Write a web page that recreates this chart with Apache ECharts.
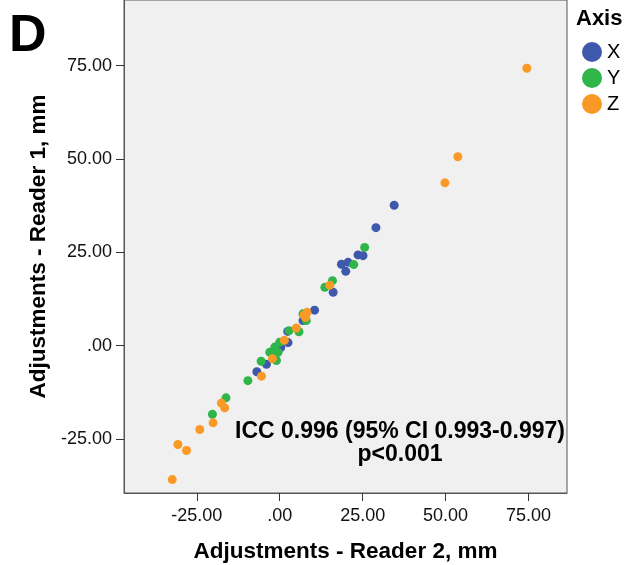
<!DOCTYPE html>
<html>
<head>
<meta charset="utf-8">
<script src="https://cdn.jsdelivr.net/npm/echarts@6/dist/echarts.min.js"></script>
<style>
  html, body { margin: 0; padding: 0; background: #fff; }
  #chart { width: 626px; height: 565px; }
</style>
</head>
<body>
<div id="chart"></div>
<script>
// 读数：Reader 2 (x) / Reader 1 (y)
var axisNames = ['X', 'Y', 'Z'];
var axisColors = ['#3e58ac', '#2fb54a', '#fa9a26'];
var tickValues = [-25, 0, 25, 50, 75];

var pointsX = [
  [34.5, 37.6], [29.0, 31.6], [23.6, 24.3], [25.1, 24.1], [18.6, 21.8],
  [20.6, 22.3], [19.9, 19.9], [16.1, 14.3], [10.5, 9.5], [7.0, 6.7],
  [2.4, 3.8], [2.5, 0.8], [0.3, -0.5], [-4.0, -5.0], [-6.9, -7.0]
];
var pointsY = [
  [25.6, 26.3], [22.3, 21.7], [15.9, 17.4], [13.6, 15.6], [7.0, 8.5],
  [8.0, 6.7], [5.8, 3.7], [2.8, 4.0], [0.0, 0.9], [-1.5, -0.4],
  [-0.5, -1.8], [-3.0, -1.8], [-1.5, -3.1], [-1.0, -4.0], [-5.6, -4.2],
  [-9.6, -9.4], [-16.2, -14.0], [-20.3, -18.4]
];
var pointsZ = [
  [74.5, 74.3], [53.7, 50.6], [49.8, 43.6], [15.1, 16.2], [7.3, 8.2],
  [8.2, 8.9], [7.8, 7.5], [5.0, 4.7], [1.4, 1.4], [-2.2, -3.5],
  [-5.5, -8.2], [-17.6, -15.4], [-16.6, -16.7], [-20.1, -20.7],
  [-24.1, -22.5], [-30.7, -26.5], [-28.1, -28.1], [-32.4, -35.9]
];
var allPoints = [pointsX, pointsY, pointsZ];

var fontName = '"Liberation Sans", Arial, sans-serif';

function fmt(v) {
  if (tickValues.indexOf(v) < 0) return '';
  return v === 0 ? '.00' : v.toFixed(2);
}

var myChart = echarts.init(document.getElementById('chart'));

var option = {
  animation: false,
  textStyle: { fontFamily: fontName, color: '#000' },
  grid: {
    left: 124, right: 59, top: 0, bottom: 72,
    outerBoundsMode: 'none',
    containLabel: false,
    show: true,
    backgroundColor: '#f0f0f0',
    borderColor: '#555',
    borderWidth: 1
  },
  legend: {
    data: axisNames,
    orient: 'vertical',
    left: 577, top: 37,
    icon: 'circle',
    itemWidth: 20, itemHeight: 20,
    itemGap: 6,
    textStyle: { fontSize: 20, color: '#000', fontFamily: fontName }
  },
  xAxis: {
    type: 'value',
    min: -46.95, max: 86.6,
    name: 'Adjustments - Reader 2, mm',
    nameLocation: 'middle',
    nameGap: 47,
    nameTextStyle: { fontSize: 22.5, fontWeight: 'bold', color: '#000' },
    splitLine: { show: false },
    axisLine: { show: true, onZero: false, lineStyle: { color: '#555' } },
    axisTick: { show: true, length: 8, customValues: tickValues, lineStyle: { color: '#333' } },
    axisLabel: { customValues: tickValues, formatter: fmt, fontSize: 18, color: '#111', margin: 14 }
  },
  yAxis: {
    type: 'value',
    min: -39.5, max: 92.6,
    name: 'Adjustments - Reader 1, mm',
    nameLocation: 'middle',
    nameGap: 73,
    nameRotate: 90,
    nameTextStyle: { fontSize: 22.5, fontWeight: 'bold', color: '#000' },
    splitLine: { show: false },
    axisLine: { show: true, onZero: false, lineStyle: { color: '#555' } },
    axisTick: { show: true, length: 8, customValues: tickValues, lineStyle: { color: '#333' } },
    axisLabel: { customValues: tickValues, formatter: fmt, fontSize: 18, color: '#111', margin: 12 }
  },
  graphic: [
    { type: 'text', left: 9, top: 11,
      style: { text: 'D', font: 'bold 52px ' + fontName, fill: '#000' } },
    { type: 'text', left: 576, top: 8,
      style: { text: 'Axis', font: 'bold 22px ' + fontName, fill: '#000' } },
    { type: 'text', x: 400, y: 432,
      style: { text: 'ICC 0.996 (95% CI 0.993-0.997)', font: 'bold 23px ' + fontName,
               fill: '#000', textAlign: 'center', textVerticalAlign: 'middle' } },
    { type: 'text', x: 400, y: 455,
      style: { text: 'p<0.001', font: 'bold 23px ' + fontName,
               fill: '#000', textAlign: 'center', textVerticalAlign: 'middle' } }
  ],
  series: axisNames.map(function (n, i) {
    return {
      name: n,
      type: 'scatter',
      data: allPoints[i],
      symbolSize: 9,
      itemStyle: { color: axisColors[i], opacity: 1 },
      z: 2 + i
    };
  })
};

myChart.setOption(option);
</script>
</body>
</html>
